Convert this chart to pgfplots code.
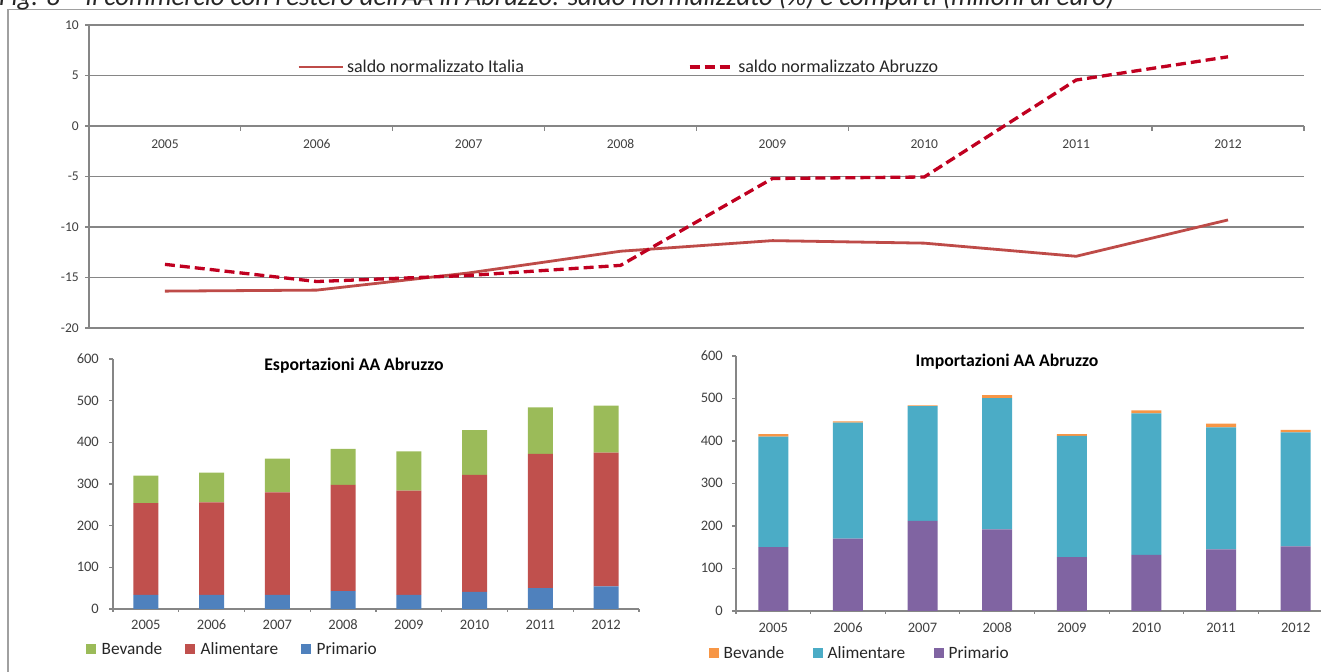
\documentclass[border=0pt]{standalone}
\usepackage{fontspec}
\setmainfont{Carlito}
\usepackage{graphicx}
\usepackage{pgfplots}
\usepackage{pgfplotstable}
\pgfplotsset{compat=1.18}
\pgfplotsset{/pgf/number format/assume math mode=true}

\definecolor{gridgray}{HTML}{868686}
\definecolor{framegray}{HTML}{A0A0A0}
\definecolor{lab}{HTML}{404040}
\definecolor{ita}{RGB}{190,75,72}
\definecolor{abr}{RGB}{192,0,32}
\definecolor{ebev}{HTML}{9BBB59}
\definecolor{eali}{HTML}{C0504D}
\definecolor{epri}{HTML}{4F81BD}
\definecolor{ibev}{HTML}{F79646}
\definecolor{iali}{HTML}{4BACC6}
\definecolor{ipri}{HTML}{8064A2}

\pgfplotstableread{
x ita abr
1 -16.35 -13.7
2 -16.25 -15.4
3 -14.55 -14.8
4 -12.4 -13.8
5 -11.35 -5.2
6 -11.6 -5.05
7 -12.9 4.55
8 -9.3 6.85
}\saldo

\pgfplotstableread{
x pri ali bev
1 34 220 66
2 34 222 71
3 34 246 81
4 43 255 86
5 34 250 94
6 41 281 107
7 50 322 112
8 54 321 113
}\expdata

\pgfplotstableread{
x pri ali bev
1 150 260 6
2 170 273 3
3 212 270 2
4 192 309 7
5 127 285 4
6 132 333 7
7 145 287 9
8 152 268 6
}\impdata

\begin{document}
\begin{tikzpicture}[x=1bp,y=1bp]

% ---------- top line chart ----------
\begin{axis}[
  at={(89bp,343bp)}, anchor=south west, scale only axis,
  width=1215bp, height=303bp,
  xmin=0.5, xmax=8.5, ymin=-20, ymax=10,
  axis x line=middle, axis y line=left,
  axis line style={-, draw=gridgray, line width=1.2bp},
  ytick={-20,-15,-10,-5,0,5,10},
  ymajorgrids, grid style={gridgray, line width=1.2bp},
  xtick={1,2,3,4,5,6,7,8},
  xticklabels={2005,2006,2007,2008,2009,2010,2011,2012},
  major x tick style={draw=none},
  minor xtick={1.5,2.5,3.5,4.5,5.5,6.5,7.5,8.5},
  minor tick length=5bp, major tick length=4bp,
  tick style={gridgray, line width=1.2bp},
  tick align=outside,
  xticklabel style={anchor=center, inner sep=0pt, yshift=-14bp, text height=8.5bp, text depth=0bp, font=\fontsize{13.5bp}{16bp}\selectfont, text=lab},
  yticklabel style={anchor=east, inner sep=0pt, xshift=-6bp, text height=8.5bp, text depth=0bp, font=\fontsize{13.5bp}{16bp}\selectfont, text=lab},
  legend columns=2,
  legend style={at={(0.1712,0.8614)}, anchor=west, draw=none, fill=none,
    inner sep=0pt, font=\fontsize{18bp}{21bp}\selectfont, text=black!85,
    nodes={inner sep=0pt},
    /tikz/every odd column/.append style={column sep=3bp},
    /tikz/every even column/.append style={column sep=164bp}},
  legend image code/.code={\draw[#1] (0bp,0bp) -- (44bp,0bp);},
]
\addplot[ita, line width=2.8bp] table[x=x,y=ita]{\saldo};
\addlegendentry{saldo normalizzato Italia}
\addplot[abr, line width=3.3bp, dash pattern=on 10bp off 5bp] table[x=x,y=abr]{\saldo};
\addlegendentry{saldo normalizzato Abruzzo}
\end{axis}

% ---------- bottom left: exports ----------
\begin{axis}[
  at={(113bp,62bp)}, anchor=south west, scale only axis,
  width=526bp, height=250bp,
  xmin=0.5, xmax=8.5, ymin=0, ymax=600,
  ybar stacked, bar width=25bp,
  axis x line=bottom, axis y line=left,
  axis line style={-, draw=gridgray, line width=1.2bp},
  ytick={0,100,200,300,400,500,600},
  xtick={1,2,3,4,5,6,7,8},
  xticklabels={2005,2006,2007,2008,2009,2010,2011,2012},
  major x tick style={draw=none},
  minor xtick={0.5,1.5,2.5,3.5,4.5,5.5,6.5,7.5,8.5},
  tick align=outside, major tick length=4bp, minor tick length=3bp,
  tick style={gridgray, line width=1.2bp},
  xticklabel style={anchor=center, inner sep=0pt, yshift=-12bp, text height=9bp, text depth=0bp, font=\fontsize{14.5bp}{17bp}\selectfont, text=lab},
  yticklabel style={anchor=east, inner sep=0pt, xshift=-10bp, text height=9bp, text depth=0bp, font=\fontsize{14.5bp}{17bp}\selectfont, text=lab},
  title={\textbf{Esportazioni AA Abruzzo}},
  title style={at={(0.458,0.948)}, anchor=center, inner sep=0pt, font=\fontsize{17.7bp}{20bp}\selectfont, text=black},
  legend columns=3,
  legend style={at={(-0.0513,-0.16)}, anchor=west, draw=none, fill=none,
    inner sep=0pt, font=\fontsize{17.3bp}{20bp}\selectfont, text=black!85,
    nodes={inner sep=0pt},
    /tikz/every odd column/.append style={column sep=6bp},
    /tikz/every even column/.append style={column sep=23bp}},
]
\addplot[fill=epri, draw=none, forget plot] table[x=x,y=pri]{\expdata};
\addplot[fill=eali, draw=none, forget plot] table[x=x,y=ali]{\expdata};
\addplot[fill=ebev, draw=none, forget plot] table[x=x,y=bev]{\expdata};
\addlegendimage{legend image code/.code={\fill[ebev] (0bp,-4.5bp) rectangle (9bp,4.5bp);}}
\addlegendentry{Bevande}
\addlegendimage{legend image code/.code={\fill[eali] (0bp,-4.5bp) rectangle (9bp,4.5bp);}}
\addlegendentry{Alimentare}
\addlegendimage{legend image code/.code={\fill[epri] (0bp,-4.5bp) rectangle (9bp,4.5bp);}}
\addlegendentry{Primario}
\end{axis}

% ---------- bottom right: imports ----------
\begin{axis}[
  at={(736bp,60bp)}, anchor=south west, scale only axis,
  width=597bp, height=255bp,
  xmin=0.5, xmax=8.5, ymin=0, ymax=600,
  ybar stacked, bar width=30bp,
  axis x line=bottom, axis y line=left,
  axis line style={-, draw=gridgray, line width=1.2bp},
  ytick={0,100,200,300,400,500,600},
  xtick={1,2,3,4,5,6,7,8},
  xticklabels={2005,2006,2007,2008,2009,2010,2011,2012},
  major x tick style={draw=none},
  minor xtick={0.5,1.5,2.5,3.5,4.5,5.5,6.5,7.5,8.5},
  tick align=outside, major tick length=4bp, minor tick length=3bp,
  tick style={gridgray, line width=1.2bp},
  xticklabel style={anchor=center, inner sep=0pt, yshift=-13bp, text height=9bp, text depth=0bp, font=\fontsize{14.5bp}{17bp}\selectfont, text=lab},
  yticklabel style={anchor=east, inner sep=0pt, xshift=-9bp, text height=9bp, text depth=0bp, font=\fontsize{14.5bp}{17bp}\selectfont, text=lab},
  title={\textbf{Importazioni AA Abruzzo}},
  title style={at={(0.454,0.953)}, anchor=center, inner sep=0pt, font=\fontsize{17.7bp}{20bp}\selectfont, text=black},
  legend columns=3,
  legend style={at={(-0.0452,-0.165)}, anchor=west, draw=none, fill=none,
    inner sep=0pt, font=\fontsize{17.3bp}{20bp}\selectfont, text=black!85,
    nodes={inner sep=0pt},
    /tikz/every odd column/.append style={column sep=5bp},
    /tikz/every even column/.append style={column sep=29bp}},
]
\addplot[fill=ipri, draw=none, forget plot] table[x=x,y=pri]{\impdata};
\addplot[fill=iali, draw=none, forget plot] table[x=x,y=ali]{\impdata};
\addplot[fill=ibev, draw=none, forget plot] table[x=x,y=bev]{\impdata};
\addlegendimage{legend image code/.code={\fill[ibev] (0bp,-4.5bp) rectangle (9bp,4.5bp);}}
\addlegendentry{Bevande}
\addlegendimage{legend image code/.code={\fill[iali] (0bp,-4.5bp) rectangle (9bp,4.5bp);}}
\addlegendentry{Alimentare}
\addlegendimage{legend image code/.code={\fill[ipri] (0bp,-4.5bp) rectangle (9bp,4.5bp);}}
\addlegendentry{Primario}
\end{axis}

% frame
\draw[framegray, line width=1.2bp] (8,-10) -- (8,661.7) -- (1340,661.7);
% title (cut at the top)
\node[anchor=base west, inner sep=0pt, text=black!85] at (-1,665.5)
  {\resizebox{1115bp}{!}{\itshape Fig. 8 – Il commercio con l'estero dell'AA in Abruzzo: saldo normalizzato (\%) e comparti (milioni di euro)}};

\pgfresetboundingbox
\useasboundingbox (0,0) rectangle (1321,671);
\end{tikzpicture}
\end{document}
